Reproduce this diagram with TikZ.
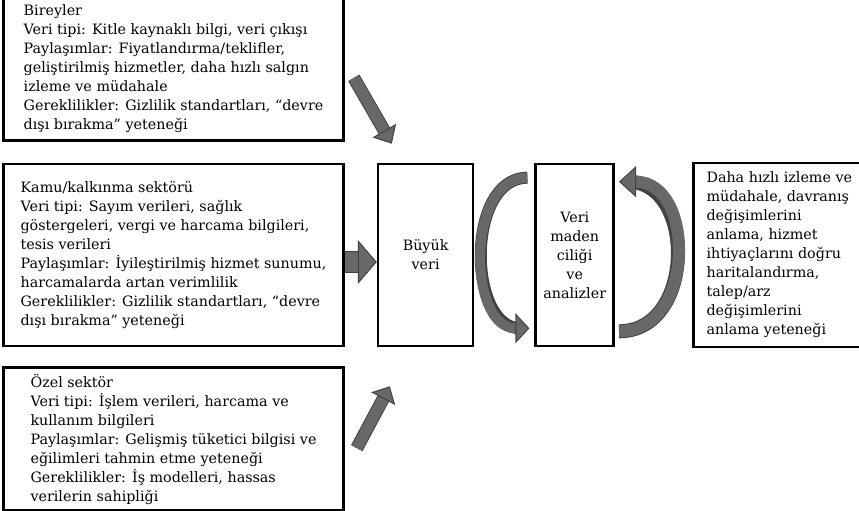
\documentclass[tikz,border=0pt]{standalone}
\usepackage{fontspec}
\setmainfont{DejaVu Serif}
\usetikzlibrary{positioning,arrows.meta}
\definecolor{arrfill}{RGB}{104,104,104}
\definecolor{arrline}{RGB}{66,66,66}

\begin{document}
\begin{tikzpicture}[%
    x=1pt, y=-1pt,               % pixel units, y going down
    node distance=21pt and 32pt, % spacing of the boxes
    every node/.style={font=\fontsize{14.3}{19}\selectfont}]
% -------------------------------------------------
% box styles
\tikzset{
  box/.style={draw, line width=2.6pt, align=left, inner sep=4pt},
  sector/.style={box, minimum width=340pt},
  stage/.style={box, align=center, minimum height=182pt},
  % -------------------------------------------------
  % fat grey arrows (shaft plus darker rim)
  blk/.style 2 args={draw=arrfill, line width=#1,
    preaction={draw=arrline, line width=#2, arrows=-, shorten >=9pt}},
  tip/.style 2 args={-{Triangle[length=#1,width=#2,fill=arrfill,color=arrline,line width=1pt]}}
}
\useasboundingbox (0,0) rectangle (859,511);
% -------------------------------------------------
% left column: the three sources
\node [sector, minimum height=182pt] (kamu) at (173.5,255)
  {Kamu/kalkınma sektörü\\
   Veri tipi: Sayım verileri, sağlık\\
   göstergeleri, vergi ve harcama bilgileri,\\
   tesis verileri\\
   Paylaşımlar: İyileştirilmiş hizmet sunumu,\\
   harcamalarda artan verimlilik\\
   Gereklilikler: Gizlilik standartları, “devre\\
   dışı bırakma” yeteneği};
\node [sector, minimum height=143pt, above=of kamu] (bireyler)
  {Bireyler\\
   Veri tipi: Kitle kaynaklı bilgi, veri çıkışı\\
   Paylaşımlar: Fiyatlandırma/teklifler,\\
   geliştirilmiş hizmetler, daha hızlı salgın\\
   izleme ve müdahale\\
   Gereklilikler: Gizlilik standartları, “devre\\
   dışı bırakma” yeteneği};
\node [sector, minimum height=143pt, below=19pt of kamu] (ozel)
  {Özel sektör\\
   Veri tipi: İşlem verileri, harcama ve\\
   kullanım bilgileri\\
   Paylaşımlar: Gelişmiş tüketici bilgisi ve\\
   eğilimleri tahmin etme yeteneği\\
   Gereklilikler: İş modelleri, hassas\\
   verilerin sahipliği};

% middle and right nodes
\node [stage, minimum width=95pt, right=of kamu] (buyuk) {Büyük\\veri};
\node [stage, minimum width=78pt, right=60pt of buyuk] (madencilik)
  {Veri\\maden\\ciliği\\ve\\analizler};
\node [box, minimum width=172pt, minimum height=184pt, right=77pt of madencilik] (sonuc)
  {Daha hızlı izleme ve\\
   müdahale, davranış\\
   değişimlerini\\
   anlama, hizmet\\
   ihtiyaçlarını doğru\\
   haritalandırma,\\
   talep/arz\\
   değişimlerini\\
   anlama yeteneği};

% -------------------------------------------------
% sources into big data
\draw [blk={11pt}{13pt}, tip={15pt}{27pt}]
  ([xshift=9pt,yshift=-9pt]bireyler.east) -- ([xshift=15pt,yshift=19pt]buyuk.north west);
\draw [blk={20pt}{22pt}, tip={19pt}{44pt}]
  ([yshift=-7pt]kamu.east) -- ([yshift=-7pt]buyuk.west);
\draw [blk={11pt}{13pt}, tip={14pt}{27pt}]
  ([xshift=12pt,yshift=-9pt]ozel.east) -- ([xshift=13pt,yshift=-39pt]buyuk.south west);

% -------------------------------------------------
% the two loops round the analysis box
\draw [blk={10pt}{12pt}, tip={14pt}{30pt}]
  ([xshift=-7pt,yshift=-15pt]madencilik.north west)
  .. controls +(-62,0) and +(-62,0) .. ([xshift=-5pt,yshift=19pt]madencilik.south west);
\draw [blk={12pt}{14pt}, tip={17pt}{31pt}]
  ([xshift=4pt,yshift=16pt]madencilik.south east)
  .. controls +(77,0) and +(77,0) .. ([xshift=4pt,yshift=-19pt]madencilik.north east);
\end{tikzpicture}
\end{document}
